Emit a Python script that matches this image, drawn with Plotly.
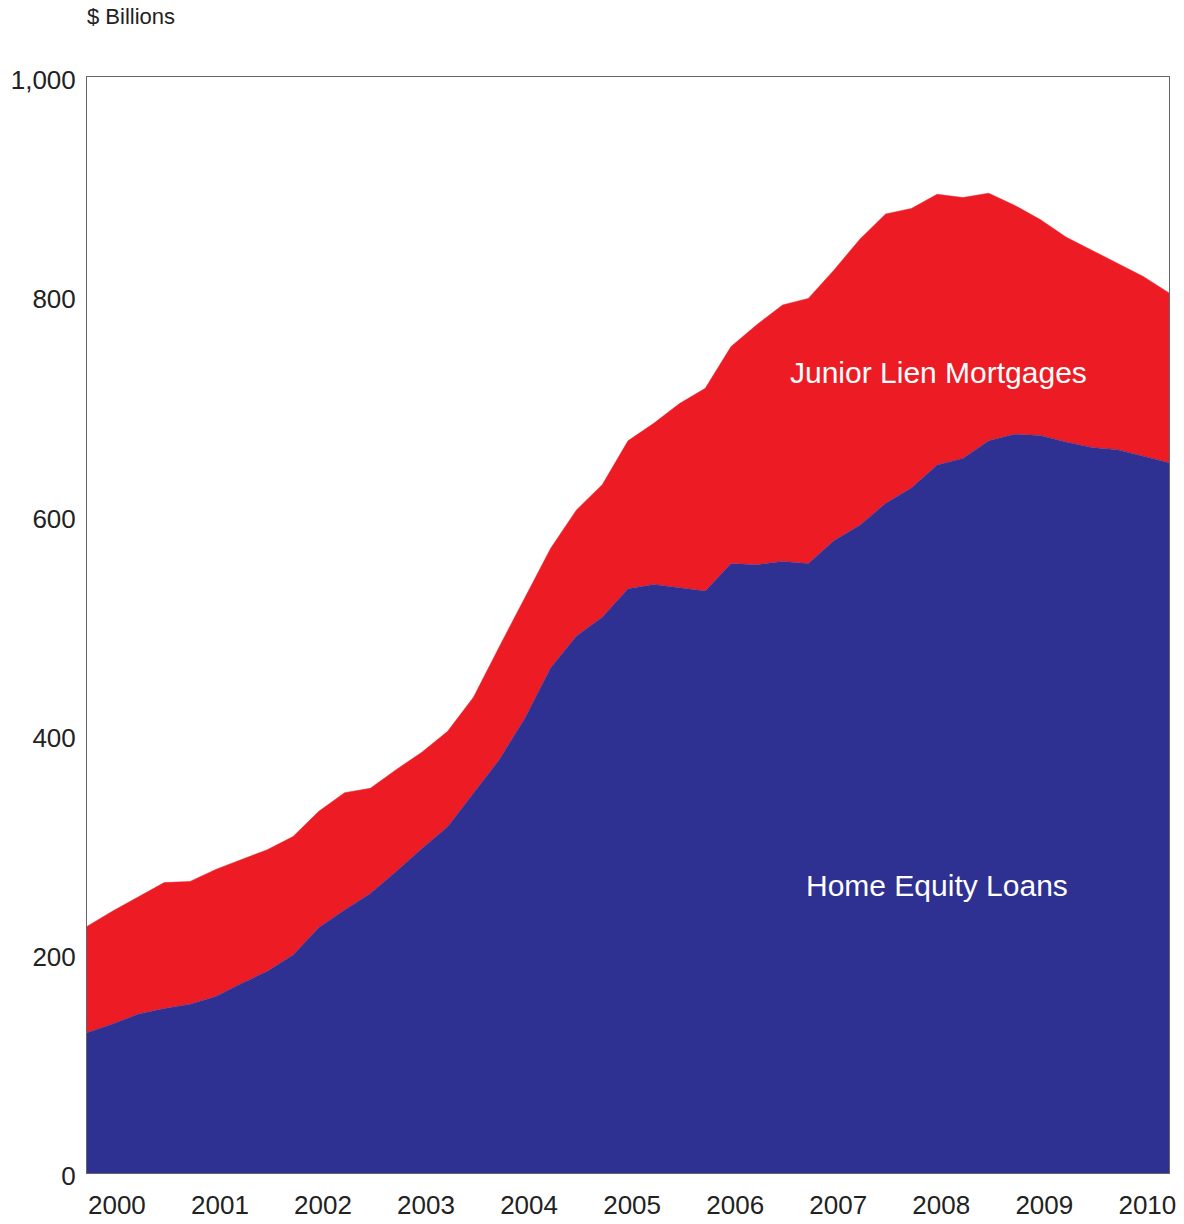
import plotly.graph_objects as go

quarters = [f"{y}Q{q}" for y in range(2000, 2011) for q in range(1, 5)][:43]
home_equity = [128, 136, 145, 150, 154, 161, 173, 184, 199, 224, 240, 255,
               275, 296, 316, 347, 377, 415, 461, 490, 507, 533, 537, 534,
               531, 556, 555, 558, 556, 577, 591, 611, 625, 646, 652, 668,
               674, 673, 667, 662, 660, 654, 648]
total = [225, 239, 252, 265, 266, 277, 286, 295, 307, 330, 347, 351,
         368, 384, 403, 434, 480, 525, 570, 605, 628, 668, 684, 702,
         716, 754, 774, 792, 798, 824, 852, 875, 880, 893, 890, 894,
         883, 870, 854, 842, 830, 818, 803]
junior_lien = [t - h for t, h in zip(total, home_equity)]
years = list(range(2000, 2011))
y_ticks = [0, 200, 400, 600, 800, 1000]
y_tick_text = ["0", "200", "400", "600", "800", "1,000"]

x = [int(q[:4]) + (int(q[-1]) - 1) * 0.25 for q in quarters]

RED = "#ED1C24"
BLUE = "#2E3192"
FONT = "Liberation Sans, Arial, sans-serif"

fig = go.Figure()
fig.add_trace(go.Scatter(x=x, y=home_equity, stackgroup="one", mode="lines",
                         line=dict(width=0.5, color=BLUE), fillcolor=BLUE,
                         name="Home Equity Loans", hoverinfo="x+y"))
fig.add_trace(go.Scatter(x=x, y=junior_lien, stackgroup="one", mode="lines",
                         line=dict(width=0.5, color=RED), fillcolor=RED,
                         name="Junior Lien Mortgages", hoverinfo="x+y"))

fig.add_annotation(x=2008.26, y=730, text="Junior Lien Mortgages", showarrow=False,
                   font=dict(family=FONT, size=30, color="white"))
fig.add_annotation(x=2008.25, y=262, text="Home Equity Loans", showarrow=False,
                   font=dict(family=FONT, size=30, color="white"))
fig.add_annotation(xref="paper", yref="paper", x=0, y=1.0, yshift=46,
                   xanchor="left", yanchor="bottom", xshift=-2,
                   text="$ Billions", showarrow=False,
                   font=dict(family=FONT, size=22, color="#222"))

fig.update_layout(
    width=1184, height=1224,
    margin=dict(l=87, r=15, t=77, b=51, autoexpand=False),
    paper_bgcolor="white", plot_bgcolor="white",
    showlegend=False,
    font=dict(family=FONT, size=26, color="#222"),
    xaxis=dict(range=[x[0], x[-1]], tickvals=[yr + 0.29 for yr in years],
               ticktext=[str(yr) for yr in years], showgrid=False, zeroline=False,
               showline=True, linecolor="#666", linewidth=1, mirror=True,
               ticks="", ticklabelstandoff=9, automargin=False),
    yaxis=dict(range=[0, 1000], tickvals=y_ticks, ticktext=y_tick_text,
               showgrid=False, zeroline=False, showline=True, linecolor="#666",
               linewidth=1, mirror=True, ticks="", ticklabelstandoff=5,
               ticklabelshift=3, automargin=False),
)

fig.write_html("out.html", config={"displayModeBar": False},
               post_script="document.body.style.margin='0';document.body.style.overflow='hidden';")
